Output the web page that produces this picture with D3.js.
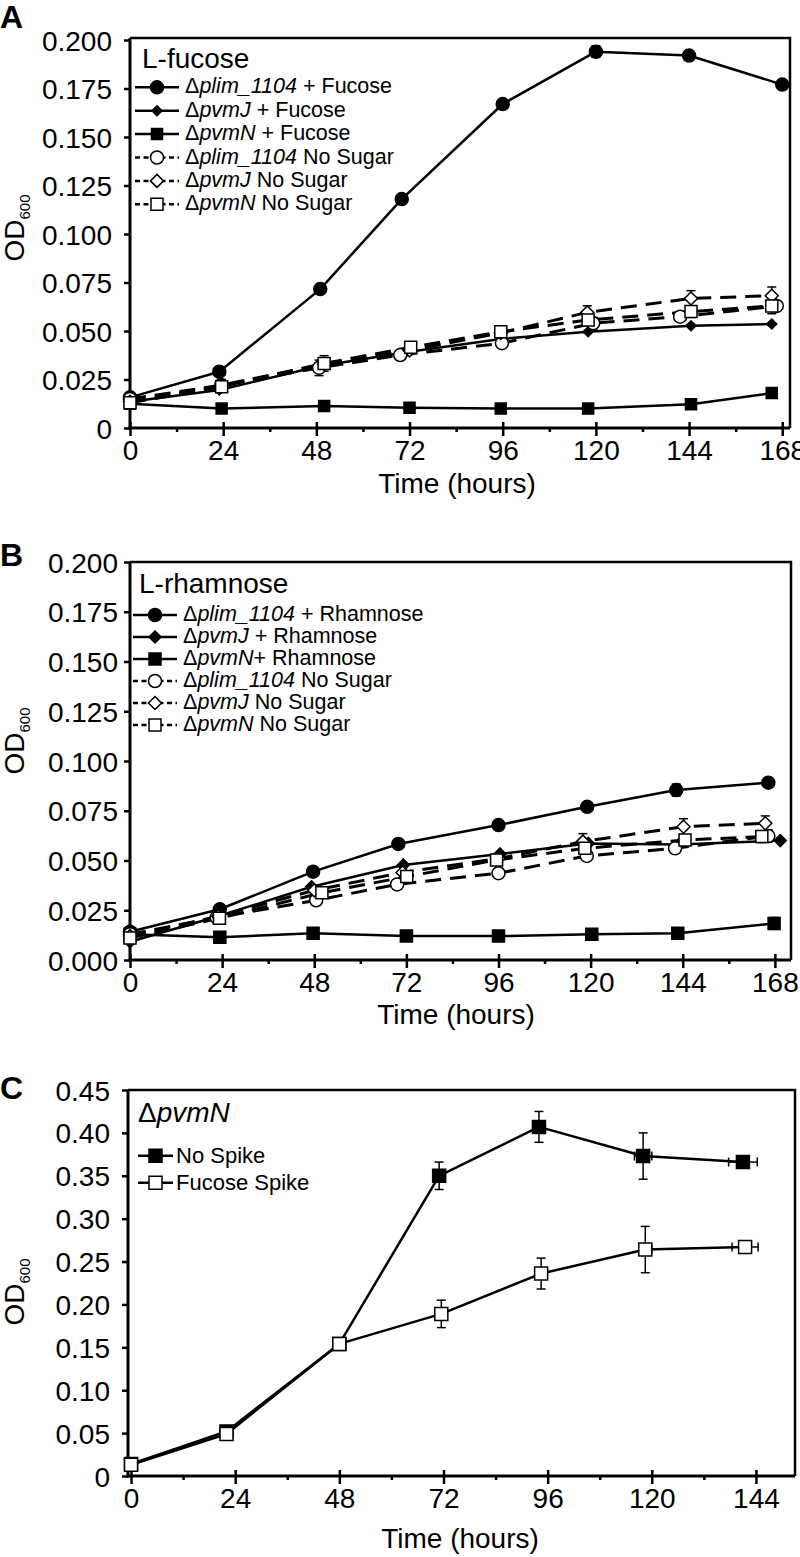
<!DOCTYPE html>
<html><head><meta charset="utf-8">
<script src="https://cdn.jsdelivr.net/npm/d3@7"></script>
<style>
body{margin:0;background:#fff}
svg{display:block}
text{font-family:"Liberation Sans",Arial,Helvetica,sans-serif;fill:#000}
</style>
</head><body>
<svg id="c" width="800" height="1557"></svg>
<script>
// ---------------- DATA ----------------
const xTicksAB = [0, 24, 48, 72, 96, 120, 144, 168];
const xMinorAB = [12, 36, 60, 84, 108, 132, 156];
const xTicksC = [0, 24, 48, 72, 96, 120, 144];
const xMinorC = [12, 36, 60, 84, 108, 132];
const yTicksAB = [0, 0.025, 0.05, 0.075, 0.1, 0.125, 0.15, 0.175, 0.2];
const yLabelsA = ["0", "0.025", "0.050", "0.075", "0.100", "0.125", "0.150", "0.175", "0.200"];
const yLabelsB = ["0.000", "0.025", "0.050", "0.075", "0.100", "0.125", "0.150", "0.175", "0.200"];
const yTicksC = [0, 0.05, 0.1, 0.15, 0.2, 0.25, 0.3, 0.35, 0.4, 0.45];
const yLabelsC = ["0", "0.05", "0.10", "0.15", "0.20", "0.25", "0.30", "0.35", "0.40", "0.45"];

const legendGenes = ["plim_1104", "pvmJ", "pvmN", "plim_1104", "pvmJ", "pvmN"];
const legendSuffixA = [" + Fucose", " + Fucose", " + Fucose", " No Sugar", " No Sugar", " No Sugar"];
const legendSuffixB = [" + Rhamnose", " + Rhamnose", "+ Rhamnose", " No Sugar", " No Sugar", " No Sugar"];
const legendC = ["No Spike", "Fucose Spike"];

// Panel A (L-fucose)
const A_plimF_t = [0, 23, 49, 70, 96, 120, 144, 168];
const A_plimF_v = [0.0158, 0.029, 0.0716, 0.118, 0.167, 0.194, 0.192, 0.177];
const A_plimF_e = [0, 0, 0, 0, 0, 0.003, 0, 0];
const A_pvmJF_t = [0, 23, 49, 71, 96, 118, 144.5, 165.3];
const A_pvmJF_v = [0.0135, 0.0196, 0.032, 0.039, 0.046, 0.0496, 0.0527, 0.0536];
const A_pvmJF_e = [0, 0, 0, 0, 0, 0, 0, 0];
const A_pvmNF_t = [0, 23.6, 50, 72, 95.5, 118, 144.5, 165.3];
const A_pvmNF_v = [0.0125, 0.0100, 0.0113, 0.0104, 0.0100, 0.0100, 0.0122, 0.0180];
const A_pvmNF_e = [0, 0, 0, 0, 0, 0, 0, 0];
const A_plimNS_t = [0, 23.5, 48.7, 69.6, 95.8, 119.3, 141.7, 166.6];
const A_plimNS_v = [0.0150, 0.0220, 0.0310, 0.0376, 0.0437, 0.0540, 0.0574, 0.0629];
const A_plimNS_e = [0, 0.003, 0.004, 0, 0, 0.003, 0, 0];
const A_pvmJNS_t = [0, 23.5, 50, 72, 95.5, 117.8, 144.5, 165.3];
const A_pvmJNS_v = [0.0135, 0.0220, 0.0330, 0.0400, 0.0490, 0.0596, 0.0668, 0.0682];
const A_pvmJNS_e = [0, 0.003, 0, 0, 0, 0.0034, 0.004, 0.0045];
const A_pvmNNS_t = [0, 23.6, 50, 72.3, 95.5, 118, 144.5, 165.3];
const A_pvmNNS_v = [0.0130, 0.0213, 0.0333, 0.0416, 0.0496, 0.0557, 0.0600, 0.0629];
const A_pvmNNS_e = [0, 0, 0.004, 0, 0.002, 0, 0.003, 0.004];

// Panel B (L-rhamnose)
const B_plimR_t = [0, 23.4, 47.7, 69.9, 96, 119.1, 142.3, 166.3];
const B_plimR_v = [0.0142, 0.0255, 0.0444, 0.0583, 0.0678, 0.0770, 0.0854, 0.0891];
const B_plimR_e = [0, 0, 0, 0, 0, 0, 0.003, 0];
const B_pvmJR_t = [0, 23, 47.3, 71.2, 96.4, 119.4, 143, 169.4];
const B_pvmJR_v = [0.0092, 0.0220, 0.0368, 0.0477, 0.0533, 0.0586, 0.0580, 0.0600];
const B_pvmJR_e = [0, 0, 0, 0, 0, 0, 0, 0];
const B_pvmNR_t = [0, 23.4, 47.7, 72, 96, 120.3, 142.7, 167.8];
const B_pvmNR_v = [0.0130, 0.0114, 0.0134, 0.0121, 0.0120, 0.0129, 0.0134, 0.0184];
const B_pvmNR_e = [0, 0, 0, 0, 0, 0, 0, 0.003];
const B_plimNS_t = [0, 22.6, 48.5, 69.6, 96, 119, 142, 166.3];
const B_plimNS_v = [0.0130, 0.0214, 0.0300, 0.0380, 0.0436, 0.0523, 0.0561, 0.0623];
const B_plimNS_e = [0, 0, 0, 0, 0, 0, 0, 0.003];
const B_pvmJNS_t = [0, 23, 48, 71, 96, 118, 144.2, 165.5];
const B_pvmJNS_v = [0.0120, 0.0220, 0.0350, 0.0440, 0.0510, 0.0595, 0.0670, 0.0687];
const B_pvmJNS_e = [0, 0, 0, 0, 0, 0.004, 0.004, 0.0037];
const B_pvmNNS_t = [0, 23.3, 50, 72.1, 95.5, 118.5, 144.6, 164.6];
const B_pvmNNS_v = [0.0110, 0.0210, 0.0338, 0.0419, 0.0503, 0.0561, 0.0603, 0.0620];
const B_pvmNNS_e = [0, 0, 0, 0, 0, 0, 0, 0.003];

// Panel C (ΔpvmN spike)
const C_noSpike_t = [0, 22, 48, 71, 94, 118, 141];
const C_noSpike_v = [0.014, 0.052, 0.154, 0.350, 0.407, 0.373, 0.366];
const C_noSpike_e = [0, 0, 0, 0.016, 0.018, 0.027, 0];
const C_noSpike_xe = [0, 0, 0, 0, 0, 2, 3.3];
const C_fucSpike_t = [0, 22, 48, 71.5, 94.5, 118.5, 141.5];
const C_fucSpike_v = [0.013, 0.049, 0.154, 0.189, 0.236, 0.264, 0.267];
const C_fucSpike_e = [0, 0, 0, 0.016, 0.018, 0.027, 0];
const C_fucSpike_xe = [0, 0, 0, 0, 0, 1.5, 3];

// ---------------- DRAWING ----------------
const svg = d3.select("#c");
const FONT = '"Liberation Sans",Arial,Helvetica,sans-serif';

function markerPath(shape, s) {
  if (shape === "circle") return d3.symbol(d3.symbolCircle, Math.PI * s * s)();
  if (shape === "square") return `M${-s},${-s}H${s}V${s}H${-s}Z`;
  return `M0,${-s}L${s},0L0,${s}L${-s},0Z`;
}

function drawMarker(g, shape, filled, s, x, y) {
  g.append("path").attr("d", markerPath(shape, s))
    .attr("transform", `translate(${x},${y})`)
    .attr("fill", filled ? "#000" : "#fff")
    .attr("stroke", "#000").attr("stroke-width", 1.5);
}

function zip(t, v, e, xe) {
  return t.map((d, i) => ({t: d, v: v[i], e: e ? e[i] : 0, xe: xe ? xe[i] : 0}));
}

function drawPanel(p) {
  const g = svg.append("g");
  const x = d3.scaleLinear().domain(p.xDomain).range([p.left, p.right]);
  const y = d3.scaleLinear().domain(p.yDomain).range([p.bottom, p.yTopTick]);

  // frame top/right
  g.append("path").attr("d", `M${p.left},${p.top}H${p.right}V${p.bottom}`)
    .attr("fill", "none").attr("stroke", "#000").attr("stroke-width", 2.5);

  // y axis
  const ya = g.append("g").attr("transform", `translate(${p.left},0)`)
    .call(d3.axisLeft(y).tickValues(p.yTicks).tickFormat((d, i) => p.yLabels[i])
      .tickSize(6).tickSizeOuter(0).tickPadding(p.yPad));
  ya.select(".domain").remove();
  ya.selectAll("line").attr("stroke-width", 2.5);
  ya.selectAll("text").attr("font-size", 28).attr("font-family", FONT).attr("dy", "0.36em");
  g.append("line").attr("x1", p.left).attr("x2", p.left).attr("y1", p.top).attr("y2", p.bottom + 1.5)
    .attr("stroke", "#000").attr("stroke-width", 3);

  // x axis (outer ticks + labels)
  const xa = g.append("g").attr("transform", `translate(0,${p.bottom})`)
    .call(d3.axisBottom(x).tickValues(p.xTicks).tickSize(8).tickSizeOuter(0).tickPadding(4));
  xa.select(".domain").remove();
  xa.selectAll("line").attr("stroke-width", 2.5);
  xa.selectAll("text").attr("font-size", 28).attr("font-family", FONT);
  // inner part of major ticks
  const xi = g.append("g").attr("transform", `translate(0,${p.bottom})`)
    .call(d3.axisTop(x).tickValues(p.xTicks).tickSize(6).tickSizeOuter(0).tickFormat(""));
  xi.select(".domain").remove();
  xi.selectAll("line").attr("stroke-width", 2.5);
  // minor ticks
  const xm = g.append("g").attr("transform", `translate(0,${p.bottom})`)
    .call(d3.axisBottom(x).tickValues(p.xMinor).tickSize(4).tickSizeOuter(0).tickFormat(""));
  xm.select(".domain").remove();
  xm.selectAll("line").attr("stroke-width", 2.5);
  g.append("line").attr("x1", p.left - 1.5).attr("x2", p.right).attr("y1", p.bottom).attr("y2", p.bottom)
    .attr("stroke", "#000").attr("stroke-width", 3);

  // axis titles
  g.append("text").attr("x", p.xTitleX).attr("y", p.xTitleY).attr("text-anchor", "middle")
    .attr("font-size", 28).text("Time (hours)");
  const yt = g.append("text").attr("transform", `translate(${p.yTitleX},${p.yTitleY}) rotate(-90)`)
    .attr("text-anchor", "middle");
  yt.append("tspan").attr("font-size", 28).text("OD");
  yt.append("tspan").attr("font-size", 15).attr("dy", 6).text("600");

  // panel letter
  g.append("text").attr("x", 0).attr("y", p.letterY).attr("font-size", 32).attr("font-weight", "bold").text(p.letter);

  // series
  const line = d3.line().x(d => x(d.t)).y(d => y(d.v));
  p.series.forEach(s => {
    g.append("path").datum(s.data).attr("d", line).attr("fill", "none")
      .attr("stroke", "#000").attr("stroke-width", s.dashed ? 3 : 2.5)
      .attr("stroke-dasharray", s.dashed ? "16,9" : null)
      .attr("stroke-linejoin", "round");
  });
  p.series.forEach(s => {
    const eg = g.append("g").attr("stroke", "#000").attr("stroke-width", 1.5);
    s.data.filter(d => d.e > 0).forEach(d => {
      const cx = x(d.t), y1 = y(d.v + d.e), y2 = y(d.v - d.e);
      eg.append("line").attr("x1", cx).attr("x2", cx).attr("y1", y1).attr("y2", y2);
      eg.append("line").attr("x1", cx - 4.5).attr("x2", cx + 4.5).attr("y1", y1).attr("y2", y1);
      eg.append("line").attr("x1", cx - 4.5).attr("x2", cx + 4.5).attr("y1", y2).attr("y2", y2);
    });
    s.data.filter(d => d.xe > 0).forEach(d => {
      const cy = y(d.v), x1 = x(d.t - d.xe), x2 = x(d.t + d.xe);
      eg.append("line").attr("x1", x1).attr("x2", x2).attr("y1", cy).attr("y2", cy);
      eg.append("line").attr("x1", x1).attr("x2", x1).attr("y1", cy - 4.5).attr("y2", cy + 4.5);
      eg.append("line").attr("x1", x2).attr("x2", x2).attr("y1", cy - 4.5).attr("y2", cy + 4.5);
    });
  });
  p.series.forEach(s => {
    s.data.forEach(d => drawMarker(g, s.shape, s.filled, s.size, x(d.t), y(d.v)));
  });

  // legend
  const L = p.legend;
  g.append("text").attr("x", L.titleX).attr("y", L.titleY).attr("font-size", L.titleSize)
    .call(t => {
      if (L.titleGene) {
        t.append("tspan").text("Δ");
        t.append("tspan").attr("font-style", "italic").text(L.titleGene);
      } else t.text(L.title);
    });
  p.series.forEach((s, i) => {
    const ly = L.y0 + i * L.dy;
    g.append("line").attr("x1", L.x0).attr("x2", L.x1).attr("y1", ly).attr("y2", ly)
      .attr("stroke", "#000").attr("stroke-width", 2.5)
      .attr("stroke-dasharray", s.dashed ? "5,3.5" : null);
    drawMarker(g, s.shape, s.filled, s.legendSize || s.size, (L.x0 + L.x1) / 2, ly);
    const t = g.append("text").attr("x", L.tx).attr("y", ly + L.baseOff).attr("font-size", L.size);
    if (L.genes) {
      t.append("tspan").text("Δ");
      t.append("tspan").attr("font-style", "italic").text(L.genes[i]);
      t.append("tspan").text(L.suffix[i]);
    } else {
      t.text(L.labels[i]);
    }
  });
}

drawPanel({
  letter: "A", letterY: 28,
  left: 130, right: 790, top: 38, bottom: 428, yTopTick: 40,
  xDomain: [0, 170], yDomain: [0, 0.2],
  xTicks: xTicksAB, xMinor: xMinorAB, yTicks: yTicksAB, yLabels: yLabelsA, yPad: 12,
  xTitleX: 457, xTitleY: 493, yTitleX: 24, yTitleY: 228,
  series: [
    {data: zip(A_plimF_t, A_plimF_v, A_plimF_e), shape: "circle", filled: true, size: 6.5, dashed: false},
    {data: zip(A_pvmJF_t, A_pvmJF_v, A_pvmJF_e), shape: "diamond", filled: true, size: 5, dashed: false},
    {data: zip(A_pvmNF_t, A_pvmNF_v, A_pvmNF_e), shape: "square", filled: true, size: 5.5, dashed: false},
    {data: zip(A_plimNS_t, A_plimNS_v, A_plimNS_e), shape: "circle", filled: false, size: 6.5, dashed: true},
    {data: zip(A_pvmJNS_t, A_pvmJNS_v, A_pvmJNS_e), shape: "diamond", filled: false, size: 6.5, dashed: true},
    {data: zip(A_pvmNNS_t, A_pvmNNS_v, A_pvmNNS_e), shape: "square", filled: false, size: 6, dashed: true}
  ],
  legend: {title: "L-fucose", titleX: 142, titleY: 68, titleSize: 28,
    x0: 135, x1: 179, tx: 185, y0: 87.3, dy: 23.4, baseOff: 6, size: 21.5,
    genes: legendGenes, suffix: legendSuffixA}
});

drawPanel({
  letter: "B", letterY: 566,
  left: 130, right: 791, top: 562, bottom: 960, yTopTick: 562,
  xDomain: [0, 172.2], yDomain: [0, 0.2],
  xTicks: xTicksAB, xMinor: xMinorAB, yTicks: yTicksAB, yLabels: yLabelsB, yPad: 6,
  xTitleX: 456, xTitleY: 1024, yTitleX: 24, yTitleY: 741,
  series: [
    {data: zip(B_plimR_t, B_plimR_v, B_plimR_e), shape: "circle", filled: true, size: 6.5, dashed: false},
    {data: zip(B_pvmJR_t, B_pvmJR_v, B_pvmJR_e), shape: "diamond", filled: true, size: 6, dashed: false},
    {data: zip(B_pvmNR_t, B_pvmNR_v, B_pvmNR_e), shape: "square", filled: true, size: 6, dashed: false},
    {data: zip(B_plimNS_t, B_plimNS_v, B_plimNS_e), shape: "circle", filled: false, size: 6.5, dashed: true},
    {data: zip(B_pvmJNS_t, B_pvmJNS_v, B_pvmJNS_e), shape: "diamond", filled: false, size: 6.5, dashed: true},
    {data: zip(B_pvmNNS_t, B_pvmNNS_v, B_pvmNNS_e), shape: "square", filled: false, size: 6, dashed: true}
  ],
  legend: {title: "L-rhamnose", titleX: 139, titleY: 593, titleSize: 28,
    x0: 133, x1: 177, tx: 183, y0: 615, dy: 22, baseOff: 6, size: 21.5,
    genes: legendGenes, suffix: legendSuffixB}
});

drawPanel({
  letter: "C", letterY: 1099,
  left: 128, right: 795, top: 1090, bottom: 1476, yTopTick: 1090,
  xDomain: [-0.7, 153], yDomain: [0, 0.45],
  xTicks: xTicksC, xMinor: xMinorC, yTicks: yTicksC, yLabels: yLabelsC, yPad: 12,
  xTitleX: 460, xTitleY: 1548, yTitleX: 24, yTitleY: 1292,
  series: [
    {data: zip(C_noSpike_t, C_noSpike_v, C_noSpike_e, C_noSpike_xe), shape: "square", filled: true, size: 6.5, dashed: false},
    {data: zip(C_fucSpike_t, C_fucSpike_v, C_fucSpike_e, C_fucSpike_xe), shape: "square", filled: false, size: 6.5, dashed: false}
  ],
  legend: {titleGene: "pvmN", titleX: 138, titleY: 1122, titleSize: 28,
    x0: 138, x1: 173, tx: 176, y0: 1155.7, dy: 27, baseOff: 7, size: 22,
    labels: legendC}
});
</script>
</body></html>
